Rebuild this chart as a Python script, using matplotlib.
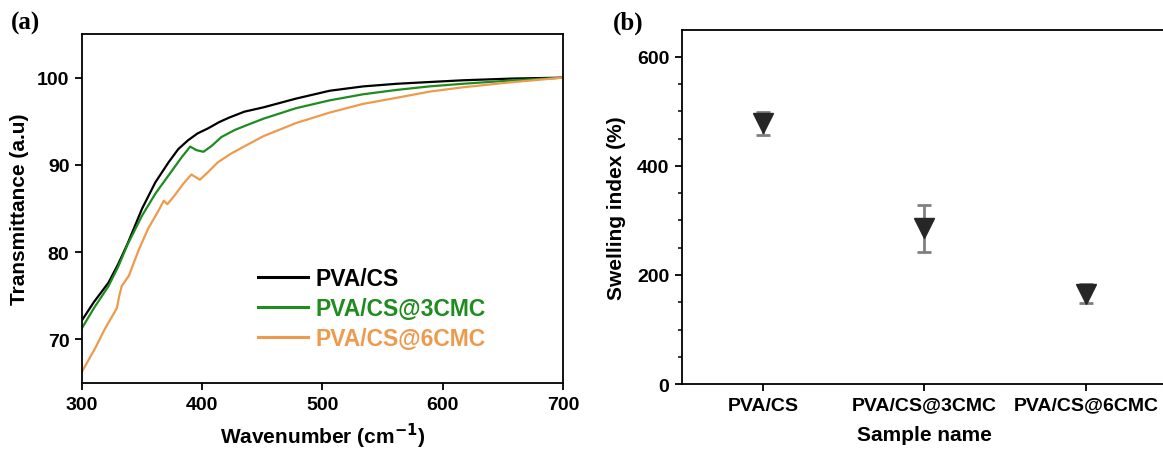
import matplotlib.pyplot as plt
import numpy as np

plt.rcParams['font.family'] = ['Liberation Sans', 'DejaVu Sans']
plt.rcParams['font.weight'] = 'bold'

# (a) transmittance curves
wn_cs = [300, 310, 322, 330, 338, 350, 361, 372, 380, 388, 396, 405, 414, 422, 435,
         451, 478, 506, 534, 562, 589, 617, 659, 700]
t_cs = [72.2, 74.3, 76.5, 78.6, 81.0, 85.0, 88.0, 90.3, 91.8, 92.8, 93.6, 94.2, 94.9, 95.4, 96.1,
        96.6, 97.6, 98.5, 99.0, 99.3, 99.5, 99.7, 99.9, 100.0]

wn_3 = [300, 310, 322, 330, 338, 350, 361, 372, 383, 390, 395, 401, 408, 416, 427,
        436, 451, 478, 506, 534, 562, 589, 617, 659, 700]
t_3 = [71.3, 73.6, 76.1, 78.3, 80.9, 84.2, 86.7, 88.8, 90.9, 92.1, 91.7, 91.5, 92.2, 93.2, 94.0,
       94.5, 95.3, 96.5, 97.4, 98.1, 98.6, 99.0, 99.3, 99.7, 100.0]

wn_6 = [300, 311, 319, 327, 329, 331, 333, 339, 347, 355, 363, 368, 371, 377, 384,
        391, 398, 405, 413, 424, 436, 451, 478, 506, 534, 562, 589, 617, 659, 700]
t_6 = [66.3, 69.0, 71.2, 73.1, 73.6, 75.0, 76.1, 77.3, 80.2, 82.7, 84.6, 85.9, 85.5, 86.5, 87.8,
       88.9, 88.3, 89.2, 90.3, 91.3, 92.2, 93.3, 94.8, 96.0, 97.0, 97.7, 98.4, 98.9, 99.5, 100.0]

# (b) swelling index
samples = ['PVA/CS', 'PVA/CS@3CMC', 'PVA/CS@6CMC']
swelling = [478, 286, 166]
swelling_err = [21, 43, 18]

c_cs = 'black'
c_3 = '#1E8C1E'
c_6 = '#EE9A4D'

fig = plt.figure(figsize=(11.63, 4.52), dpi=100)

ax1 = fig.add_axes([0.0705, 0.1504, 0.4136, 0.7721])
ax1.plot(wn_cs, t_cs, color=c_cs, lw=1.6, label='PVA/CS')
ax1.plot(wn_3, t_3, color=c_3, lw=1.6, label='PVA/CS@3CMC')
ax1.plot(wn_6, t_6, color=c_6, lw=1.6, label='PVA/CS@6CMC')
ax1.set_xlim(300, 700)
ax1.set_ylim(65, 105)
ax1.set_xticks([300, 400, 500, 600, 700])
ax1.set_yticks([70, 80, 90, 100])
ax1.set_xlabel('Wavenumber (cm$^{\\mathbf{-1}}$)', fontsize=15, fontweight='bold', labelpad=6)
ax1.set_ylabel('Transmittance (a.u)', fontsize=15, fontweight='bold', labelpad=6)
leg = ax1.legend(loc='upper left', bbox_to_anchor=(0.366, 0.332), frameon=False,
                 borderpad=0, borderaxespad=0,
                 handlelength=2.2, handletextpad=0.3, labelspacing=0.3,
                 prop={'weight': 'bold', 'size': 16.5})
for txt, col in zip(leg.get_texts(), [c_cs, c_3, c_6]):
    txt.set_color(col)
for line in leg.get_lines():
    line.set_linewidth(2.2)

ax2 = fig.add_axes([0.5864, 0.1482, 0.417, 0.7839])
ax2.errorbar(range(1, 4), swelling, yerr=swelling_err, fmt='none', ecolor='#808080',
             elinewidth=2, capsize=5, capthick=2, zorder=2)
ax2.plot(range(1, 4), swelling, 'v', color='#262626', markersize=14, zorder=3)
ax2.set_xlim(0.5, 3.5)
ax2.set_ylim(0, 650)
ax2.set_xticks(range(1, 4))
ax2.set_xticklabels(samples)
ax2.set_yticks([0, 200, 400, 600])
ax2.set_yticks(np.arange(50, 650, 50), minor=True)
ax2.spines['right'].set_visible(False)
ax2.set_xlabel('Sample name', fontsize=15, fontweight='bold', labelpad=8)
ax2.set_ylabel('Swelling index (%)', fontsize=15, fontweight='bold', labelpad=8)

for ax in (ax1, ax2):
    for s in ax.spines.values():
        s.set_linewidth(1.3)
    ax.tick_params(axis='both', which='major', direction='out', length=5, width=1.3,
                   labelsize=14, pad=4)
    ax.tick_params(axis='y', which='minor', direction='out', length=3, width=1.1)
    for lab in ax.get_xticklabels() + ax.get_yticklabels():
        lab.set_fontweight('bold')

fig.text(0.009, 0.935, '(a)', fontsize=18, fontweight='bold', family='Liberation Serif')
fig.text(0.527, 0.935, '(b)', fontsize=18, fontweight='bold', family='Liberation Serif')

fig.savefig('out.png', dpi=100)
